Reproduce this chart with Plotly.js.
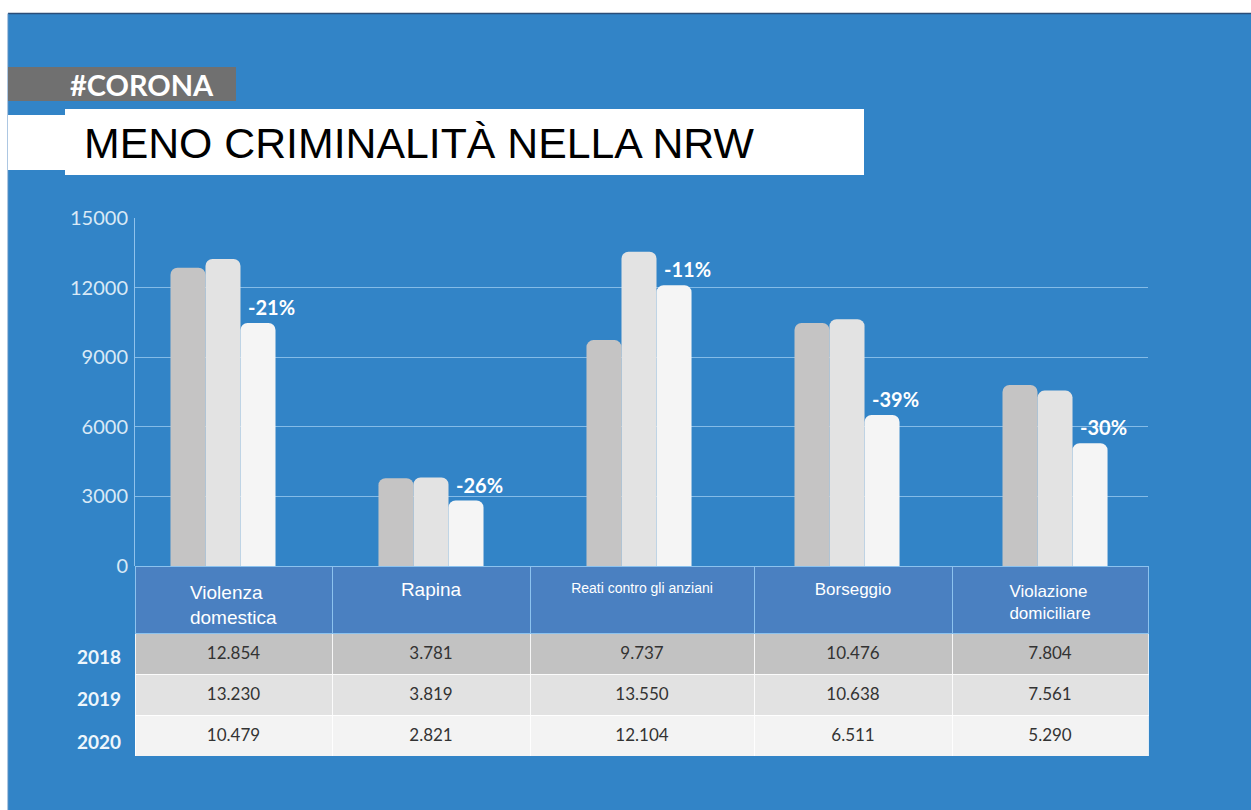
<!DOCTYPE html>
<html>
<head>
<meta charset="utf-8">
<script src="https://cdn.plot.ly/plotly-3.0.1.min.js"></script>
<style>
html,body{margin:0;padding:0;background:#ffffff;}
#chart{width:1251px;height:810px;}
</style>
</head>
<body>
<div id="chart"></div>
<script>
// ---- data ----
const categories = ["Violenza domestica", "Rapina", "Reati contro gli anziani", "Borseggio", "Violazione domiciliare"];
const headerLabels = ["Violenza<br>domestica", "Rapina", "Reati contro gli anziani", "Borseggio", "Violazione<br>domiciliare"];
const years = ["2018", "2019", "2020"];
const values2018 = [12854, 3781, 9737, 10476, 7804];
const values2019 = [13230, 3819, 13550, 10638, 7561];
const values2020 = [10479, 2821, 12104, 6511, 5290];
const yTicks = [0, 3000, 6000, 9000, 12000, 15000];

// ---- layout helpers (pixel -> paper) ----
const W = 1251, H = 810;
const M = {l: 135, r: 103, t: 218, b: 40};
const PW = W - M.l - M.r, PH = H - M.t - M.b;
const px2x = p => (p - M.l) / PW;
const py2y = p => (H - M.b - p) / PH;

const blue = "#3284c7";
const barColors = ["#c5c4c4", "#e3e3e3", "#f5f5f5"];
const rowFills = ["#c2c2c2", "#e2e2e2", "#f3f3f3"];

function fmt(v) {
  return String(v).replace(/\B(?=(\d{3})+(?!\d))/g, ".");
}

const series = [values2018, values2019, values2020];
const traces = series.map((vals, k) => ({
  type: "bar",
  x: categories,
  y: vals,
  name: years[k],
  marker: {color: barColors[k], cornerradius: 7, line: {width: 0}},
  hoverinfo: "x+y+name",
  showlegend: false
}));

const tableTop = 566, headerH = 67, rowH = 41;
const tableBottom = tableTop + headerH + 3 * rowH;
const yDomBottom = py2y(tableTop);
const colW = [197, 198, 224, 198, 196];

// table body: fills and lines
traces.push({
  type: "table",
  domain: {x: [0, 1], y: [py2y(tableBottom), py2y(tableTop)]},
  columnwidth: colW,
  header: {
    values: categories.map(() => ""),
    height: headerH,
    fill: {color: "#4a80c1"},
    line: {color: "#8cc2ee", width: 1}
  },
  cells: {
    values: categories.map(() => ["", "", ""]),
    height: rowH,
    fill: {color: categories.map(() => rowFills)},
    line: {color: "rgba(255,255,255,0.85)", width: 1}
  }
});
// table text (transparent, nudged down so text sits centred like the reference)
const shift = 8;
traces.push({
  type: "table",
  domain: {x: [0, 1], y: [py2y(tableBottom + shift - 3), py2y(tableTop + shift)]},
  columnwidth: colW,
  header: {
    values: headerLabels,
    height: headerH - 3,
    align: "center",
    fill: {color: "rgba(0,0,0,0)"},
    line: {color: "rgba(0,0,0,0)", width: 0},
    font: {family: "Liberation Sans, Arial, sans-serif", color: "#ffffff", size: [19, 19, 14, 17, 17]}
  },
  cells: {
    values: categories.map((c, i) => [fmt(values2018[i]), fmt(values2019[i]), fmt(values2020[i])]),
    height: rowH,
    align: "center",
    fill: {color: "rgba(0,0,0,0)"},
    line: {color: "rgba(0,0,0,0)", width: 0},
    font: {family: "Lato, sans-serif", color: "#333333", size: 17}
  }
});

const annotations = [];
// percentage change labels
categories.forEach((c, i) => {
  const pct = Math.round((values2020[i] - values2019[i]) / values2019[i] * 100);
  annotations.push({
    x: c, y: values2020[i], xref: "x", yref: "y",
    text: "<b>" + (pct > 0 ? "+" : "") + pct + "%</b>",
    showarrow: false, xanchor: "left", yanchor: "bottom",
    xshift: 23, yshift: 2,
    font: {family: "Lato, sans-serif", size: 20, color: "#ffffff"}
  });
});
// year row labels
years.forEach((yr, k) => {
  annotations.push({
    x: px2x(123), y: py2y(tableTop + headerH + rowH * k + 23 + k * 1.5), xref: "paper", yref: "paper",
    text: "<b>" + yr + "</b>", showarrow: false, xanchor: "right", yanchor: "middle",
    font: {family: "Lato, sans-serif", size: 19, color: "#eef6fc"}
  });
});
// titles
annotations.push({
  x: px2x(68), y: py2y(85), xref: "paper", yref: "paper",
  text: "<b>#CORONA</b>", showarrow: false, xanchor: "left", yanchor: "middle",
  font: {family: "Lato, sans-serif", size: 29, weight: 900, color: "#ffffff"}
});
annotations.push({
  x: px2x(82), y: py2y(143), xref: "paper", yref: "paper",
  text: "MENO CRIMINALITÀ NELLA NRW", showarrow: false, xanchor: "left", yanchor: "middle",
  font: {family: "Liberation Sans, Arial, sans-serif", size: 42.8, color: "#000000"}
});

const rect = (x0, y0, x1, y1, color) => ({
  type: "rect", xref: "paper", yref: "paper",
  x0: px2x(x0), x1: px2x(x1), y0: py2y(y0), y1: py2y(y1),
  fillcolor: color, line: {width: 0}, layer: "below"
});

const shapes = [
  rect(0, 0, W, 13, "#ffffff"),
  rect(0, 0, 8, H, "#ffffff"),
  {type: "line", xref: "paper", yref: "paper", x0: px2x(8), x1: px2x(W), y0: py2y(13.5), y1: py2y(13.5),
   line: {color: "#2b4d78", width: 1.5}, layer: "below"},
  {type: "line", xref: "paper", yref: "paper", x0: px2x(8), x1: px2x(8), y0: py2y(13.5), y1: py2y(H),
   line: {color: "#5a8fc4", width: 1}, layer: "below"},
  rect(8, 67, 236, 101, "#707070"),
  rect(8, 115, 65, 170, "#ffffff"),
  rect(65, 109, 864, 175, "#ffffff")
];

const layout = {
  width: W, height: H,
  margin: M,
  paper_bgcolor: blue,
  plot_bgcolor: "rgba(0,0,0,0)",
  barmode: "group",
  bargap: 0.495,
  bargroupgap: 0,
  showlegend: false,
  xaxis: {
    type: "category",
    range: [-0.423, 4.447],
    showticklabels: false, showgrid: false, zeroline: false, showline: false, ticks: "",
    fixedrange: true
  },
  yaxis: {
    domain: [yDomBottom, 1],
    range: [0, 15000],
    tickvals: yTicks,
    ticktext: yTicks.map(String),
    showgrid: true, gridcolor: "rgba(160,205,242,0.75)", gridwidth: 1,
    zeroline: false,
    showline: true, linecolor: "rgba(160,205,242,0.85)", linewidth: 1,
    ticks: "", ticklabelstandoff: 2,
    tickfont: {family: "Lato, sans-serif", size: 20, color: "#d9e9f6"},
    fixedrange: true
  },
  shapes: shapes,
  annotations: annotations
};

Plotly.newPlot("chart", traces, layout, {displayModeBar: false, staticPlot: true});
</script>
</body>
</html>
